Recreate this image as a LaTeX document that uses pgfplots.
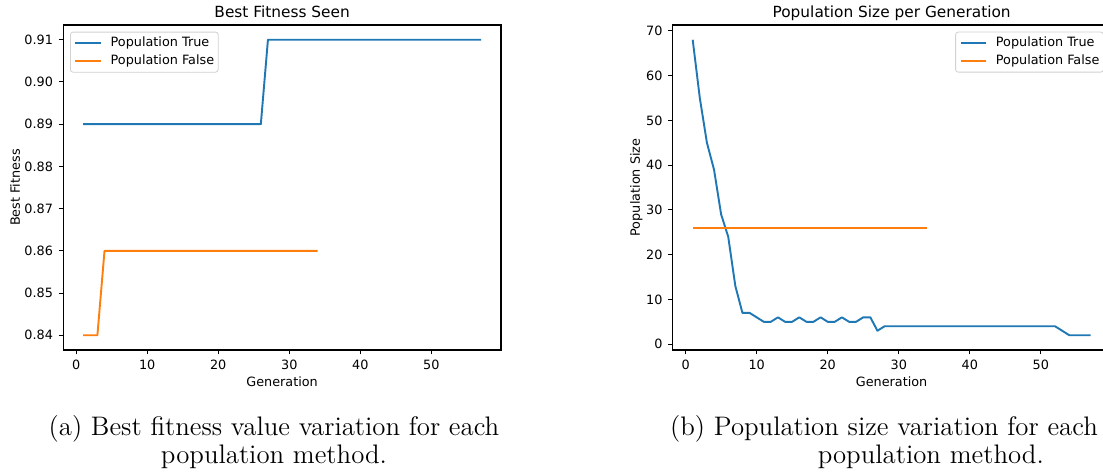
\documentclass[border=0pt]{standalone}
\usepackage{fontspec}
\usepackage{pgfplots}
\usepackage{pgfplotstable}
\pgfplotsset{compat=1.18}
\newfontfamily\dejavu{DejaVu Sans}
\definecolor{mplblue}{HTML}{1F77B4}
\definecolor{mplorange}{HTML}{FF7F0E}
\newcommand\tickfont{\dejavu\fontsize{6.4}{7.7}\selectfont}
\newcommand\titlefont{\dejavu\fontsize{7.68}{9.2}\selectfont}
\newcommand\capfont{\fontsize{13.4}{14}\selectfont}

\pgfplotstableread{
x y
1 0.89
2 0.89
3 0.89
4 0.89
5 0.89
6 0.89
7 0.89
8 0.89
9 0.89
10 0.89
11 0.89
12 0.89
13 0.89
14 0.89
15 0.89
16 0.89
17 0.89
18 0.89
19 0.89
20 0.89
21 0.89
22 0.89
23 0.89
24 0.89
25 0.89
26 0.89
27 0.91
28 0.91
29 0.91
30 0.91
31 0.91
32 0.91
33 0.91
34 0.91
35 0.91
36 0.91
37 0.91
38 0.91
39 0.91
40 0.91
41 0.91
42 0.91
43 0.91
44 0.91
45 0.91
46 0.91
47 0.91
48 0.91
49 0.91
50 0.91
51 0.91
52 0.91
53 0.91
54 0.91
55 0.91
56 0.91
57 0.91
}\fitTrue

\pgfplotstableread{
x y
1 0.84
2 0.84
3 0.84
4 0.86
5 0.86
6 0.86
7 0.86
8 0.86
9 0.86
10 0.86
11 0.86
12 0.86
13 0.86
14 0.86
15 0.86
16 0.86
17 0.86
18 0.86
19 0.86
20 0.86
21 0.86
22 0.86
23 0.86
24 0.86
25 0.86
26 0.86
27 0.86
28 0.86
29 0.86
30 0.86
31 0.86
32 0.86
33 0.86
34 0.86
}\fitFalse

\pgfplotstableread{
x y
1 68
2 55
3 45
4 39
5 29
6 24
7 13
8 7
9 7
10 6
11 5
12 5
13 6
14 5
15 5
16 6
17 5
18 5
19 6
20 5
21 5
22 6
23 5
24 5
25 6
26 6
27 3
28 4
29 4
30 4
31 4
32 4
33 4
34 4
35 4
36 4
37 4
38 4
39 4
40 4
41 4
42 4
43 4
44 4
45 4
46 4
47 4
48 4
49 4
50 4
51 4
52 4
53 3
54 2
55 2
56 2
57 2
}\popTrue

\pgfplotstableread{
x y
1 26
2 26
3 26
4 26
5 26
6 26
7 26
8 26
9 26
10 26
11 26
12 26
13 26
14 26
15 26
16 26
17 26
18 26
19 26
20 26
21 26
22 26
23 26
24 26
25 26
26 26
27 26
28 26
29 26
30 26
31 26
32 26
33 26
34 26
}\popFalse

\pgfplotsset{
  legend image code/.code={\draw[#1, line width=0.96pt, line cap=butt] (0pt,0pt) -- (12.7pt,0pt);},
  mplstyle/.style={
    scale only axis, width=218.85pt, height=162.5pt,
    axis line style={line width=0.51pt, black},
    tick style={line width=0.51pt, black},
    tick align=outside, major tick length=2.24pt,
    xtick pos=left, ytick pos=left,
    xmin=-1.8, xmax=59.8, xtick={0,10,20,30,40,50},
    /pgf/number format/assume math mode=true,
    ticklabel style={font=\tickfont, inner sep=0pt},
    xticklabel style={anchor=north, yshift=-2.76pt},
    yticklabel style={anchor=east, xshift=-2.76pt},
    every axis title/.style={at={(axis description cs:0.5,1)}, anchor=base, yshift=3.85pt, font=\titlefont, inner sep=0pt},
    every axis x label/.style={at={(axis description cs:0.5,0)}, anchor=north, yshift=-13pt, font=\tickfont, inner sep=0pt},
    legend cell align=left,
    legend style={draw=black!18, rounded corners=1.3pt, fill=white,
      font=\tickfont, inner xsep=2pt, inner ysep=2.2pt, row sep=2.9pt, column sep=4.5pt,
      nodes={inner sep=0pt}},
    every axis plot/.append style={line width=0.96pt, line join=round},
  }
}

\begin{document}
\begin{tikzpicture}
\begin{axis}[mplstyle,
  at={(31.65pt,63pt)}, anchor=south west,
  ymin=0.8365, ymax=0.9135,
  ytick={0.84,0.85,0.86,0.87,0.88,0.89,0.90,0.91},
  yticklabel style={/pgf/number format/.cd, fixed, fixed zerofill, precision=2},
  title={Best Fitness Seen},
  xlabel={Generation},
  ylabel={Best Fitness},
  every axis y label/.style={at={(axis description cs:0,0.5)}, xshift=-24.15pt, rotate=90, anchor=center, font=\tickfont, inner sep=0pt},
  legend style={at={(axis description cs:0,1)}, anchor=north west, xshift=3.35pt, yshift=-3.35pt},
]
\addplot[color=mplblue] table {\fitTrue};
\addlegendentry{Population True}
\addplot[color=mplorange] table {\fitFalse};
\addlegendentry{Population False}
\end{axis}

\begin{axis}[mplstyle,
  at={(336.4pt,63pt)}, anchor=south west,
  ymin=-1.3, ymax=71.3,
  ytick={0,10,20,30,40,50,60,70},
  title={Population Size per Generation},
  xlabel={Generation},
  ylabel={Population Size},
  every axis y label/.style={at={(axis description cs:0,0.5)}, xshift=-18.2pt, rotate=90, anchor=center, font=\tickfont, inner sep=0pt},
  legend style={at={(axis description cs:1,1)}, anchor=north east, xshift=-3.35pt, yshift=-3.35pt},
]
\addplot[color=mplblue] table {\popTrue};
\addlegendentry{Population True}
\addplot[color=mplorange] table {\popFalse};
\addlegendentry{Population False}
\end{axis}

\node[anchor=base, inner sep=0pt, font=\capfont] at (137pt,20pt) {(a) Best fitness value variation for each};
\node[anchor=base, inner sep=0pt, font=\capfont] at (137pt,6.25pt) {population method.};
\node[anchor=base, inner sep=0pt, font=\capfont] at (442pt,20pt) {(b) Population size variation for each};
\node[anchor=base, inner sep=0pt, font=\capfont] at (465.4pt,6.25pt) {population method.};

\pgfresetboundingbox
\useasboundingbox (0,0) rectangle (551.5pt,238pt);
\end{tikzpicture}
\end{document}
